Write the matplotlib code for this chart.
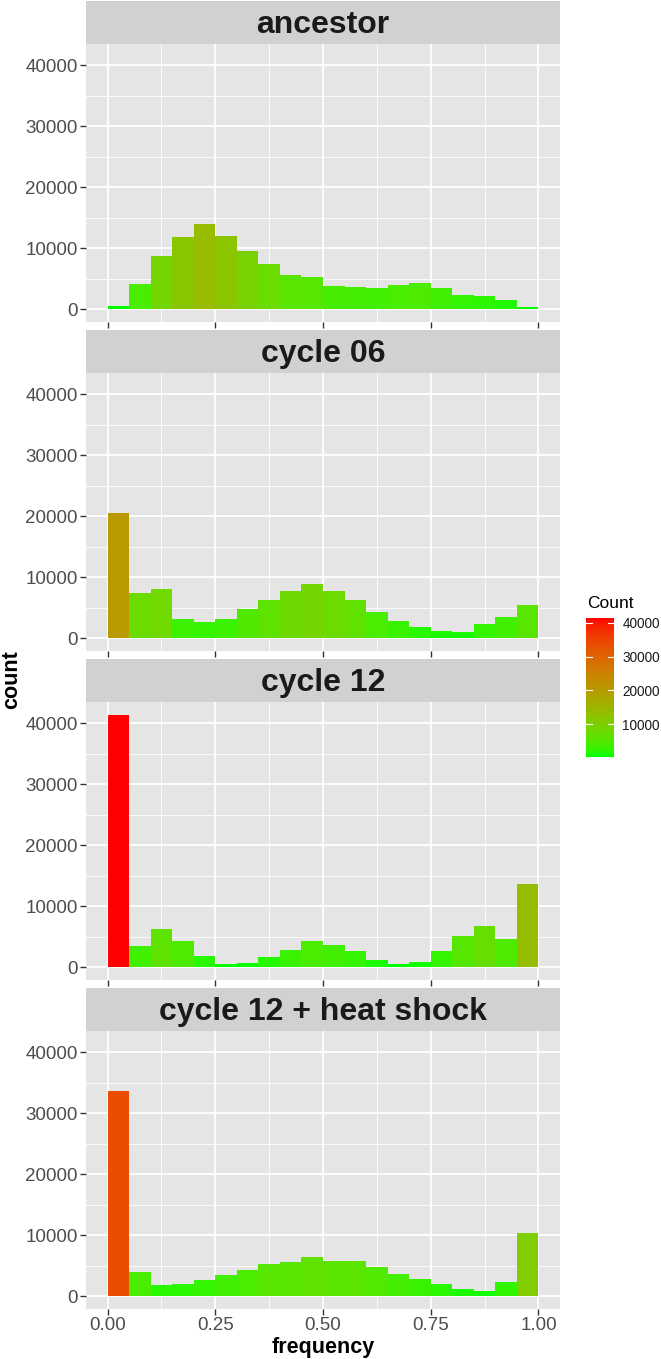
import numpy as np
import matplotlib
matplotlib.use("Agg")
import matplotlib.pyplot as plt
from matplotlib.colors import ListedColormap, Normalize

plt.rcParams['font.family'] = ['Liberation Sans', 'DejaVu Sans']

# histogram counts, 20 bins of width 0.05 from 0 to 1
bin_edges = np.linspace(0, 1, 21)
panels = ["ancestor", "cycle 06", "cycle 12", "cycle 12 + heat shock"]
ancestor = [550, 4120, 8790, 11870, 13960, 11980, 9510, 7470, 5660, 5270,
            3900, 3740, 3570, 4070, 4400, 3460, 2420, 2250, 1480, 330]
cycle06 = [20490, 7420, 8130, 3130, 2640, 3130, 4780, 6260, 7750, 8850,
           7690, 6370, 4290, 2800, 1870, 1260, 1100, 2420, 3570, 5550]
cycle12 = [41430, 3520, 6260, 4400, 1810, 550, 660, 1650, 2910, 4290,
           3630, 2640, 1150, 490, 880, 2640, 5220, 6760, 4620, 13630]
cycle12_hs = [33740, 4070, 1920, 2030, 2640, 3460, 4340, 5330, 5600, 6430,
              5770, 5880, 4840, 3740, 2800, 2030, 1150, 930, 2310, 10330]
counts = [ancestor, cycle06, cycle12, cycle12_hs]


# green -> red gradient interpolated in Lab like ggplot's scale_fill_gradient
def srgb_to_lab(rgb):
    rgb = np.asarray(rgb, float)
    lin = np.where(rgb <= 0.04045, rgb / 12.92, ((rgb + 0.055) / 1.055) ** 2.4)
    M = np.array([[0.4124, 0.3576, 0.1805],
                  [0.2126, 0.7152, 0.0722],
                  [0.0193, 0.1192, 0.9505]])
    xyz = M @ lin / np.array([0.95047, 1.0, 1.08883])
    f = np.where(xyz > 0.008856, np.cbrt(xyz), 7.787 * xyz + 16 / 116)
    return np.array([116 * f[1] - 16, 500 * (f[0] - f[1]), 200 * (f[1] - f[2])])


def lab_to_srgb(lab):
    L, a, b = lab
    fy = (L + 16) / 116
    fx = fy + a / 500
    fz = fy - b / 200
    f = np.array([fx, fy, fz])
    xyz = np.where(f ** 3 > 0.008856, f ** 3, (f - 16 / 116) / 7.787)
    xyz = xyz * np.array([0.95047, 1.0, 1.08883])
    Minv = np.array([[3.2406, -1.5372, -0.4986],
                     [-0.9689, 1.8758, 0.0415],
                     [0.0557, -0.2040, 1.0570]])
    lin = Minv @ xyz
    lin = np.clip(lin, 0, 1)
    rgb = np.where(lin <= 0.0031308, 12.92 * lin, 1.055 * lin ** (1 / 2.4) - 0.055)
    return np.clip(rgb, 0, 1)


lo = srgb_to_lab([0, 1, 0])
hi = srgb_to_lab([1, 0, 0])
# the scanned figure is a bit darker in the mid tones, so apply a small gamma
cmap = ListedColormap([lab_to_srgb(lo + t * (hi - lo)) ** 1.3 for t in np.linspace(0, 1, 256)])
allc = np.concatenate(counts)
norm = Normalize(allc.min(), allc.max())

W, H = 661, 1359
fig = plt.figure(figsize=(W / 100, H / 100), dpi=100)

panel_bg = "#E5E5E5"
strip_bg = "#D1D1D1"
left, right = 86, 560
strip_h, plot_h, stride = 43, 278, 329

for i, (name, c) in enumerate(zip(panels, counts)):
    top = 1 + i * stride
    sax = fig.add_axes([left / W, 1 - (top + strip_h) / H, (right - left) / W, strip_h / H])
    sax.set_facecolor(strip_bg)
    sax.set_xticks([])
    sax.set_yticks([])
    for s in sax.spines.values():
        s.set_visible(False)
    sax.text(0.5, 0.45, name, ha="center", va="center", fontsize=23,
             fontweight="bold", color="#1A1A1A", transform=sax.transAxes)

    ax = fig.add_axes([left / W, 1 - (top + strip_h + plot_h) / H, (right - left) / W, plot_h / H])
    ax.set_facecolor(panel_bg)
    ax.bar(bin_edges[:-1], c, width=0.05, align="edge",
           color=cmap(norm(np.array(c))), linewidth=0, zorder=3)
    ax.set_xlim(-0.05, 1.05)
    ax.set_ylim(-2070, 43500)
    ax.set_xticks([0, 0.25, 0.5, 0.75, 1.0])
    ax.set_xticks([0.125, 0.375, 0.625, 0.875], minor=True)
    ax.set_yticks([0, 10000, 20000, 30000, 40000])
    ax.set_yticks([5000, 15000, 25000, 35000], minor=True)
    ax.grid(which="major", color="white", linewidth=1.3, zorder=0)
    ax.grid(which="minor", color="white", linewidth=0.6, zorder=0)
    ax.set_axisbelow(True)
    for s in ax.spines.values():
        s.set_visible(False)
    ax.tick_params(which="major", length=4, width=1, color="#333333",
                   labelsize=13.5, labelcolor="#4D4D4D", pad=2)
    ax.tick_params(which="minor", length=0)
    if i < 3:
        ax.set_xticklabels([])
    else:
        ax.set_xticklabels(["0.00", "0.25", "0.50", "0.75", "1.00"])
        ax.set_xlabel("frequency", fontsize=15.5, fontweight="bold", labelpad=2)

fig.text(12 / W, 1 - 680 / H, "count", rotation=90, ha="center", va="center",
         fontsize=15.5, fontweight="bold")

# colour bar legend
cax = fig.add_axes([586 / W, 1 - 757 / H, 28 / W, 139 / H])
cmin, cmax = allc.min(), allc.max()
grad = np.linspace(cmin, cmax, 300).reshape(-1, 1)
cax.imshow(grad, aspect="auto", cmap=cmap, norm=norm, origin="lower",
           extent=[0, 1, cmin, cmax])
cax.set_xticks([])
cax.yaxis.tick_right()
cax.set_yticks([10000, 20000, 30000, 40000])
cax.tick_params(axis="y", length=0, labelsize=9.8, labelcolor="#1A1A1A", pad=6)
for s in cax.spines.values():
    s.set_visible(False)
for v in [10000, 20000, 30000, 40000]:
    cax.plot([0, 0.2], [v, v], color="white", lw=0.8)
    cax.plot([0.8, 1], [v, v], color="white", lw=0.8)
cax.set_xlim(0, 1)
cax.set_ylim(cmin, cmax)
fig.text(587 / W, 1 - 603 / H, "Count", ha="left", va="center", fontsize=12.5)

fig.savefig("out.png", dpi=100)
